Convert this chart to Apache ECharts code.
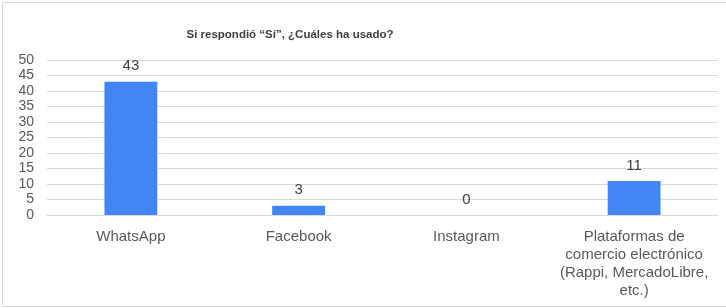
<!DOCTYPE html>
<html><head><meta charset="utf-8">
<script src="https://cdn.jsdelivr.net/npm/echarts@6/dist/echarts.min.js"></script>
<style>html,body{margin:0;padding:0;background:#fff}#c{width:726px;height:308px}</style>
</head><body><div id="c"></div>
<script>
const titleText = 'Si respondió “Sí”, ¿Cuáles ha usado?';
const categories = ['WhatsApp', 'Facebook', 'Instagram', 'Plataformas de\ncomercio electrónico\n(Rappi, MercadoLibre,\netc.)'];
const values = [43, 3, 0, 11];
const yTicks = { min: 0, max: 50, interval: 5 };

const chart = echarts.init(document.getElementById('c'), null, { renderer: 'canvas' });
chart.setOption({
  animation: false,
  textStyle: { fontFamily: 'Liberation Sans, Arial, sans-serif' },
  graphic: [{
    type: 'rect', shape: { x: 2.5, y: 2.5, width: 740, height: 304 },
    style: { fill: 'none', stroke: '#d9d9d9', lineWidth: 1 }, silent: true, z: -1
  }],
  title: {
    text: titleText, left: 285, top: 24, textAlign: 'center',
    textStyle: { fontSize: 11.5, fontWeight: 'bold', color: '#404040', fontFamily: 'Liberation Sans, Arial, sans-serif' }
  },
  grid: { left: 47, right: 8, top: 60, bottom: 93, containLabel: false },
  xAxis: {
    type: 'category', data: categories,
    axisLine: { show: true, lineStyle: { color: '#d9d9d9' } },
    axisTick: { show: false },
    axisLabel: { color: '#595959', fontSize: 15, lineHeight: 18, margin: 13, interval: 0 }
  },
  yAxis: {
    type: 'value', min: yTicks.min, max: yTicks.max, interval: yTicks.interval,
    axisLine: { show: false }, axisTick: { show: false },
    splitLine: { lineStyle: { color: '#d9d9d9', width: 1 } },
    axisLabel: { color: '#595959', fontSize: 14, margin: 13 }
  },
  series: [{
    type: 'bar', data: values, barWidth: '31.5%',
    itemStyle: { color: '#4285f4' },
    label: { show: true, position: 'top', distance: 8, color: '#404040', fontSize: 15 }
  }]
});
</script></body></html>
